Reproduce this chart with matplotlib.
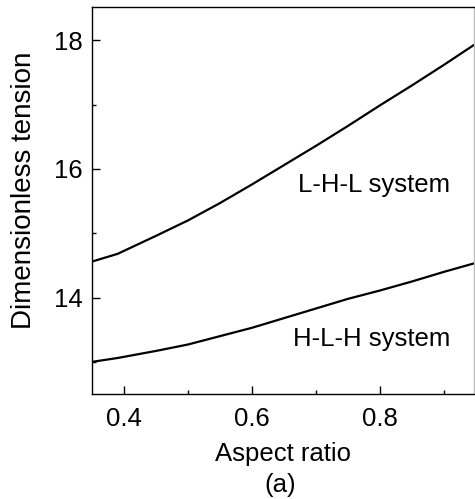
import matplotlib
matplotlib.use("Agg")
import matplotlib.pyplot as plt
import numpy as np
from matplotlib.ticker import MultipleLocator

plt.rcParams['font.family'] = ['Liberation Sans', 'DejaVu Sans']

aspect_ratio = [0.35, 0.39, 0.45, 0.50, 0.55, 0.60, 0.65, 0.70, 0.75, 0.80, 0.85, 0.90, 0.95]
lhl_tension = [14.56, 14.68, 14.96, 15.20, 15.47, 15.76, 16.06, 16.36, 16.67, 16.99, 17.30, 17.62, 17.95]
hlh_tension = [13.00, 13.06, 13.17, 13.27, 13.40, 13.53, 13.68, 13.83, 13.98, 14.11, 14.25, 14.40, 14.54]
xticks = [0.4, 0.6, 0.8]
yticks = [14, 16, 18]

fig = plt.figure(figsize=(4.75, 4.99), dpi=100)
ax = fig.add_axes([92/475, 105/499, 382/475, 387/499])

ax.plot(aspect_ratio, lhl_tension, color='black', lw=1.6)
ax.plot(aspect_ratio, hlh_tension, color='black', lw=1.6)

ax.set_xlim(0.35, 0.947)
ax.set_ylim(12.5, 18.52)
ax.set_xticks(xticks)
ax.set_yticks(yticks)
ax.xaxis.set_minor_locator(MultipleLocator(0.1))
ax.yaxis.set_minor_locator(MultipleLocator(1))
ax.tick_params(which='major', direction='in', length=6, width=1, labelsize=18.5, top=False, right=False)
ax.tick_params(which='minor', direction='in', length=2.8, width=1, top=False, right=False)
ax.tick_params(axis='x', which='major', pad=9)
ax.tick_params(axis='y', which='major', pad=7)
for s in ax.spines.values():
    s.set_linewidth(1)
ax.spines['right'].set_color('#bbbbbb')

ax.text(0.672, 15.75, 'L-H-L system', fontsize=18.5, va='center', ha='left')
ax.text(0.664, 13.36, 'H-L-H system', fontsize=18.5, va='center', ha='left')

fig.text(283/475, 1 - 461/499, 'Aspect ratio', fontsize=18.5, ha='center', va='baseline')
fig.text(280/475, 1 - 492/499, '(a)', fontsize=18.5, ha='center', va='baseline')
fig.text(24/475, 1 - 190/499, 'Dimensionless tension', fontsize=20, rotation=90, ha='center', va='center')

fig.savefig('out.png', dpi=100)
